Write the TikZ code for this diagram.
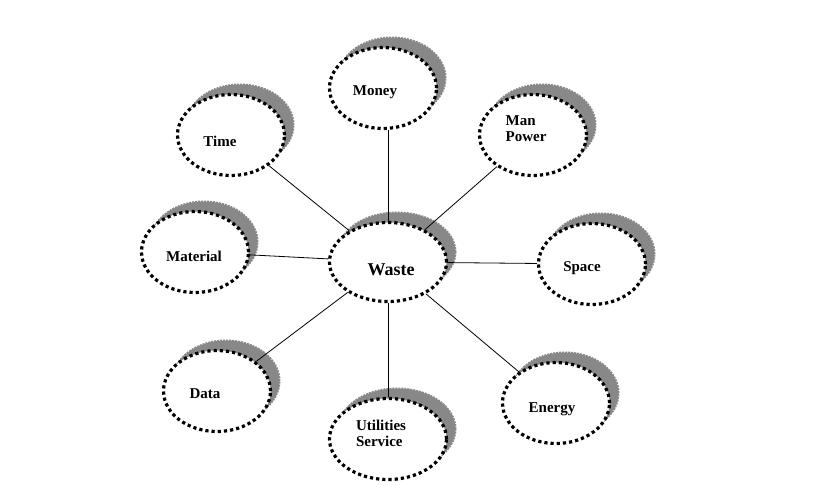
\documentclass[tikz,border=0pt]{standalone}
\usepackage{fontspec}
\setmainfont{Liberation Serif}
\usetikzlibrary{shapes.geometric,shadows}
\definecolor{shadowgray}{RGB}{136,136,136}
\begin{document}
\begin{tikzpicture}[x=1pt,y=-1pt,
  bub/.style={ellipse, draw=black, fill=white, line width=3.2pt,
    dash pattern=on 3.2pt off 3pt, inner sep=0pt,
    minimum width=107pt, minimum height=81pt,
    drop shadow={shadow xshift=9pt, shadow yshift=10pt, fill=shadowgray, opacity=1, draw=shadowgray, line width=2pt, dash pattern=on 2pt off 1pt}},
  bigbub/.style={bub, minimum width=117pt, minimum height=79pt},
  lbl/.style={font=\fontsize{15}{16}\selectfont\bfseries, inner sep=0pt, align=left},
  link/.style={draw=black, line width=0.8pt}]
\useasboundingbox (0,0) rectangle (831,496);
\fill[white] (0,0) rectangle (831,496);
% bubbles
\node[bigbub] (waste) at (388,262) {};
\node[bub] (money) at (383,88) {};
\node[bub] (time) at (231,135) {};
\node[bub] (manpower) at (533,135) {};
\node[bub] (material) at (195,252) {};
\node[bub] (space) at (592,264) {};
\node[bub] (data) at (217,391) {};
\node[bigbub, minimum height=81pt] (utilities) at (388,439) {};
\node[bub] (energy) at (556,403) {};
% labels
\node[lbl, font=\fontsize{18}{19}\selectfont\bfseries] at (391,270) {Waste};
\node[lbl] at (375,92) {Money};
\node[lbl] at (220,141) {Time};
\node[lbl] at (526,129) {Man\\Power};
\node[lbl] at (194,256) {Material};
\node[lbl] at (582,268) {Space};
\node[lbl] at (205,394) {Data};
\node[lbl] at (381,433) {Utilities\\Service};
\node[lbl] at (552,409) {Energy};
% connectors
\draw[link] (waste.north) -- (waste.north |- money.south);
\draw[link] (time) -- (waste);
\draw[link] (manpower) -- (waste);
\draw[link] (material) -- (waste);
\draw[link] (space) -- (waste);
\draw[link] (data) -- (waste);
\draw[link] (waste.south) -- (waste.south |- utilities.north);
\draw[link] (energy) -- (waste);
\end{tikzpicture}
\end{document}
